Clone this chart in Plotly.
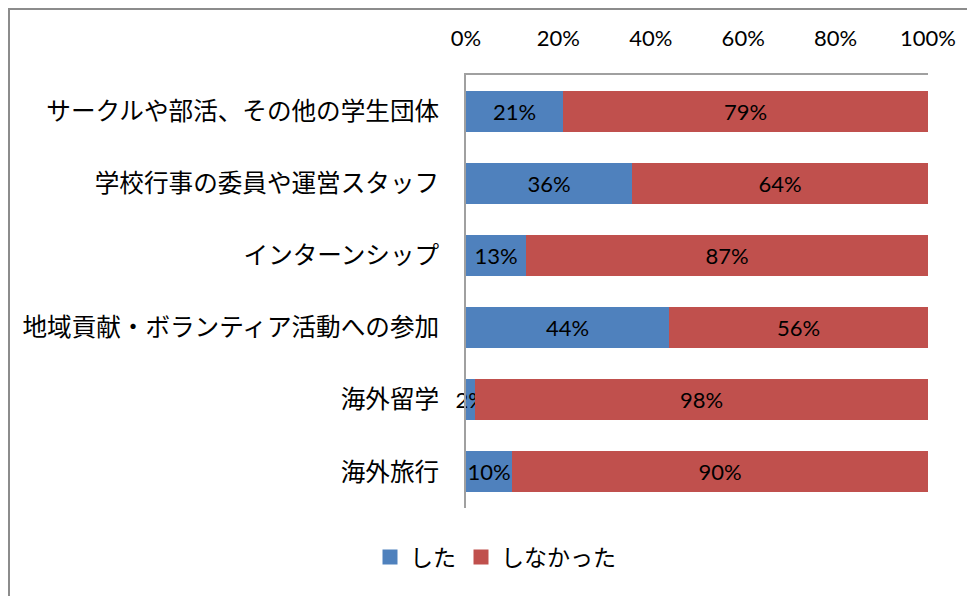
import plotly.graph_objects as go

categories = ["サークルや部活、その他の学生団体", "学校行事の委員や運営スタッフ", "インターンシップ",
              "地域貢献・ボランティア活動への参加", "海外留学", "海外旅行"]
did = [21, 36, 13, 44, 2, 10]
did_not = [79, 64, 87, 56, 98, 90]
tick_vals = [0, 20, 40, 60, 80, 100]
tick_text = ["0%", "20%", "40%", "60%", "80%", "100%"]

font_lat = "Lato, 'Noto Sans', sans-serif"
font_jp = "'Noto Sans CJK JP', sans-serif"

W, H = 975, 596
ML, MR, MT, MB = 458, 55, 67, 96
PW, PH = W - ML - MR, H - MT - MB

fig = go.Figure()
for name, vals, col in [("した", did, "#4F81BD"), ("しなかった", did_not, "#C0504D")]:
    fig.add_trace(go.Bar(y=categories, x=vals, orientation="h", name=name,
                         legendgroup=name, showlegend=False,
                         marker=dict(color=col, line=dict(width=0)),
                         text=[f"{v}%" for v in vals], textposition="inside",
                         insidetextanchor="middle", constraintext="none", textangle=0,
                         textfont=dict(color="black", size=22, family=font_lat),
                         cliponaxis=False))
for name, col in [("した", "#4F81BD"), ("しなかった", "#C0504D")]:
    fig.add_trace(go.Bar(y=[categories[0]], x=[None], orientation="h", name=name,
                         legendgroup=name, showlegend=True,
                         marker=dict(color=col, line=dict(width=3, color=col))))

fig.update_layout(
    barmode="stack", bargap=0.43,
    width=W, height=H,
    margin=dict(l=ML, r=MR, t=MT, b=MB, autoexpand=False),
    paper_bgcolor="white", plot_bgcolor="white",
    showlegend=True,
    legend=dict(orientation="h", x=0.5, xanchor="center", xref="container",
                y=1 - 549 / H, yanchor="middle", yref="container",
                font=dict(family=font_jp, size=23, color="black"),
                traceorder="normal", itemwidth=30),
    xaxis=dict(range=[0, 100], side="top", tickvals=tick_vals, ticktext=tick_text,
               showgrid=False, zeroline=False, showline=True, linecolor="#A0A0A0", linewidth=2,
               ticks="outside", ticklen=18, tickcolor="white", tickwidth=1,
               tickfont=dict(family=font_lat, size=22, color="black"),
               fixedrange=True, automargin=False),
    yaxis=dict(autorange="reversed", showline=True, linecolor="#A0A0A0", linewidth=2,
               showgrid=False, ticks="", ticklabelstandoff=20, automargin=False,
               tickfont=dict(family=font_jp, size=24.6, color="black")),
    shapes=[dict(type="rect", xref="paper", yref="paper", layer="above",
                 x0=-ML / PW + 1 / PW, x1=1 + (MR + 20) / PW,
                 y0=-(MB + 20) / PH, y1=1 + (MT - 1) / PH,
                 line=dict(color="#8C8C8C", width=2))],
)

fig.write_html("out.html")
